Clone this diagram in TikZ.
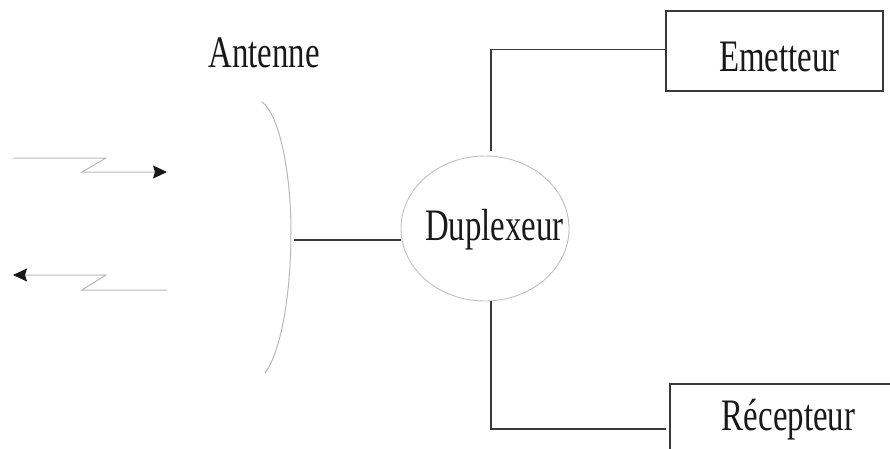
\documentclass[tikz,border=0pt]{standalone}
\usepackage{fontspec}
\usepackage{graphicx}
\setmainfont{Liberation Serif}
\usetikzlibrary{arrows.meta,shapes.geometric}
\tikzset{
  wire/.style={draw=black!78,line width=1.5pt},
  thin line/.style={draw=black!28,line width=1pt},
  signal/.style={thin line,line join=miter,-{Stealth[length=14pt,width=13pt,inset=2pt,black!90]}},
  boxnode/.style={draw=black!78,line width=1.5pt,rectangle,inner sep=0pt},
  ellnode/.style={draw=black!25,line width=.9pt,ellipse,inner sep=0pt,minimum width=168pt,minimum height=145pt},
  lbl/.style={anchor=base,inner sep=0pt,text=black!90,font=\fontsize{45}{45}\selectfont}
}
\newcommand{\squeezed}[1]{\scalebox{.73}[1]{#1}}
\begin{document}
\begin{tikzpicture}[x=1pt,y=-1pt]
\useasboundingbox (0,0) rectangle (890,448);
% nodes
\node[boxnode,minimum width=217pt,minimum height=80pt] (emt) at (774.5,51) {};
\node[boxnode,minimum width=237pt,minimum height=90pt] (rec) at (788.5,429) {};
\node[ellnode] (dup) at (485,228.5) {};
\node[lbl] (tant) at (264,67) {\squeezed{Antenne}};
\node[lbl] (temt) at (779.5,71) {\squeezed{Emetteur}};
\node[lbl] (trec) at (788.5,430) {\squeezed{Récepteur}};
\node[lbl] (tdup) at (494.5,240) {\squeezed{Duplexeur}};
% antenna
\coordinate (anta) at (262,102);
\coordinate (antm) at (291,232);
\coordinate (antb) at (265,373);
\coordinate (antc) at (294,240);
\coordinate (dupl) at (401,240);
\draw[thin line] (anta) .. controls (280,115) and (291,175) .. (antm)
                        .. controls (291,290) and (282,350) .. (antb);
% connectors
\draw[wire] (antc) -- (dupl);
\coordinate (duptop) at (491,151);
\coordinate (dupbot) at (491,301);
\draw[wire] (duptop) |- ([yshift=1.5pt]emt.west);
\draw[wire] (dupbot) |- ([xshift=-3pt]rec.west);
% signals
\coordinate (s1) at (13,158);
\coordinate (s2) at (167,172);
\coordinate (s3) at (167,290);
\coordinate (s4) at (13,275);
\draw[signal] (s1) -- (106,158) -- (82,172) -- (s2);
\draw[signal] (s3) -- (82,290) -- (106,275) -- (s4);
\end{tikzpicture}
\end{document}
